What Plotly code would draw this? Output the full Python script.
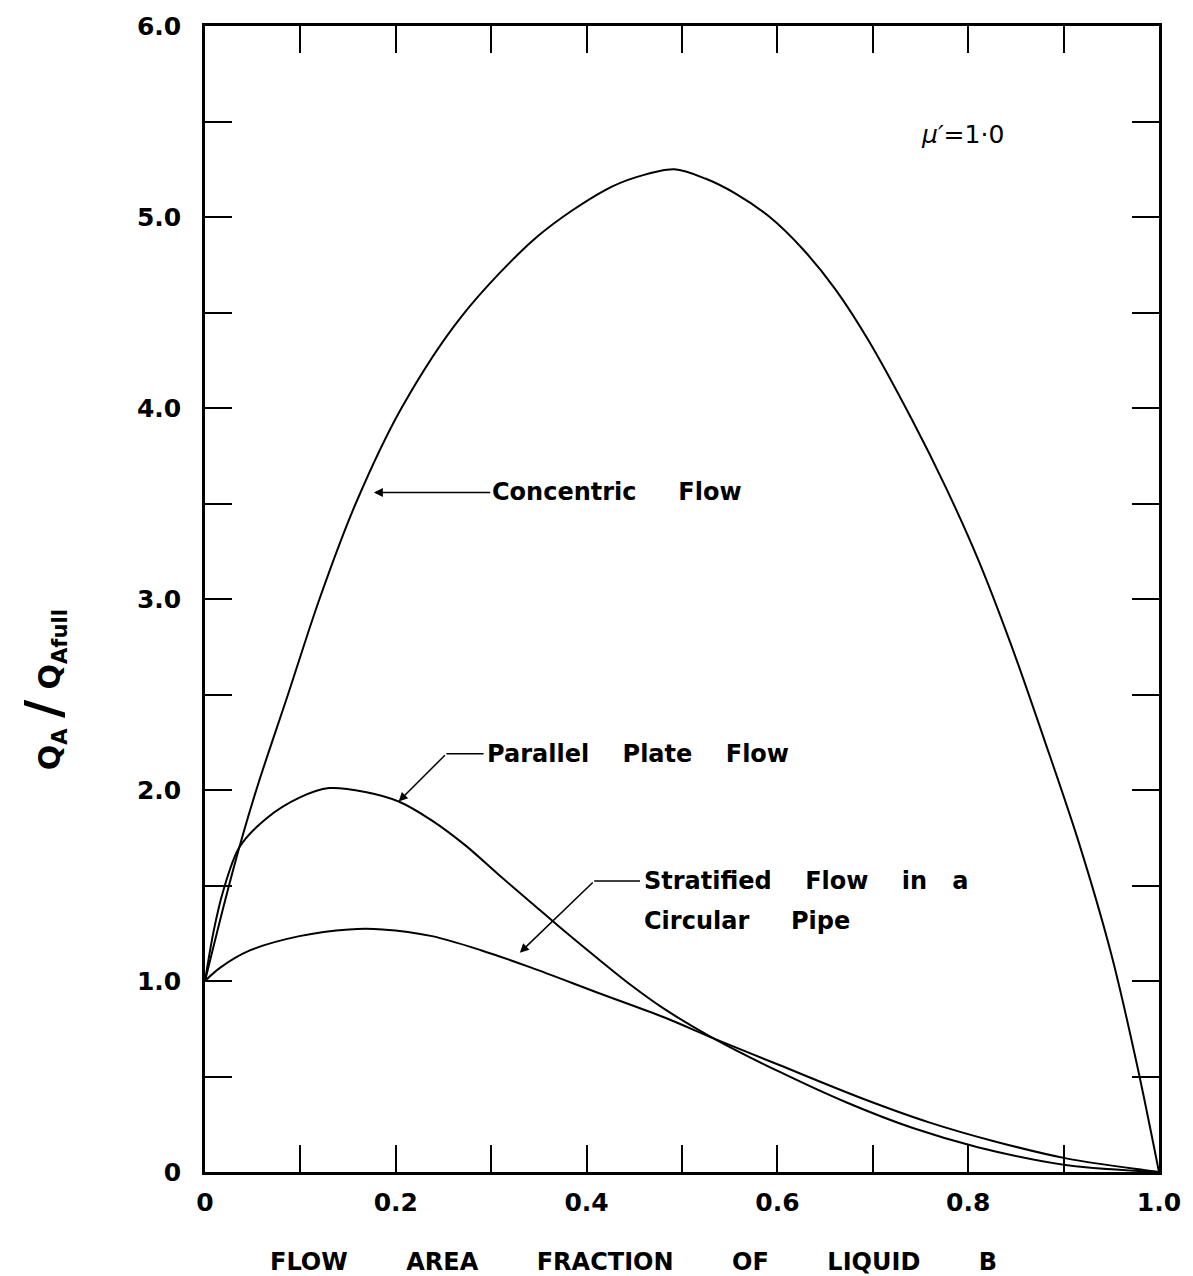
import plotly.graph_objects as go

# ---- data ----
conc_x = [0.0, 0.021, 0.036, 0.055, 0.087, 0.120, 0.158, 0.206, 0.269, 0.349, 0.419, 0.453,
          0.492, 0.525, 0.557, 0.592, 0.627, 0.661, 0.696, 0.741, 0.776, 0.811, 0.845,
          0.880, 0.915, 0.950, 0.977, 1.0]
conc_y = [1.0, 1.42, 1.70, 2.02, 2.50, 3.00, 3.50, 4.00, 4.48, 4.90, 5.14, 5.21,
          5.25, 5.20, 5.12, 5.00, 4.83, 4.62, 4.35, 3.94, 3.59, 3.20, 2.76,
          2.26, 1.74, 1.14, 0.56, 0.0]

par_x = [0.0, 0.009, 0.019, 0.036, 0.064, 0.099, 0.130, 0.168, 0.203, 0.238, 0.273,
         0.307, 0.342, 0.377, 0.411, 0.446, 0.481, 0.533, 0.602, 0.672, 0.742, 0.810,
         0.904, 1.0]
par_y = [1.0, 1.26, 1.47, 1.70, 1.85, 1.96, 2.01, 1.99, 1.94, 1.84, 1.71,
         1.56, 1.41, 1.26, 1.12, 0.98, 0.855, 0.70, 0.525, 0.365, 0.23, 0.13,
         0.035, 0.0]

strat_x = [0.0, 0.016, 0.047, 0.099, 0.151, 0.186, 0.238, 0.290, 0.342, 0.411, 0.481,
           0.533, 0.602, 0.689, 0.759, 0.828, 0.904, 0.984, 1.0]
strat_y = [1.0, 1.07, 1.16, 1.235, 1.27, 1.27, 1.235, 1.16, 1.07, 0.94, 0.81,
           0.70, 0.56, 0.385, 0.26, 0.16, 0.07, 0.01, 0.0]

x_tick_vals = [0.0, 0.1, 0.2, 0.3, 0.4, 0.5, 0.6, 0.7, 0.8, 0.9, 1.0]
x_tick_text = ["0", "", "0.2", "", "0.4", "", "0.6", "", "0.8", "", "1.0"]
y_tick_vals = [0.0, 0.5, 1.0, 1.5, 2.0, 2.5, 3.0, 3.5, 4.0, 4.5, 5.0, 5.5, 6.0]
y_tick_text = ["0", "", "1.0", "", "2.0", "", "3.0", "", "4.0", "", "5.0", "", "6.0"]

FONT = "DejaVu Sans"
NB = "\u00a0"

fig = go.Figure()
for xs, ys, name in [(conc_x, conc_y, "Concentric Flow"),
                     (par_x, par_y, "Parallel Plate Flow"),
                     (strat_x, strat_y, "Stratified Flow in a Circular Pipe")]:
    fig.add_trace(go.Scatter(x=xs, y=ys, mode="lines", name=name,
                             line=dict(color="black", width=2, shape="spline", smoothing=0.9),
                             hoverinfo="skip"))

axis_common = dict(ticks="inside", ticklen=27, tickwidth=2, tickcolor="black",
                   showline=True, linewidth=2.5, linecolor="black", mirror="ticks",
                   showgrid=False, zeroline=False,
                   tickfont=dict(family=FONT, size=25, color="black", weight="bold"))

fig.update_layout(
    width=1193, height=1276,
    margin=dict(l=205, r=26, t=22, b=104),
    paper_bgcolor="white", plot_bgcolor="white",
    showlegend=False,
    xaxis=dict(range=[0, 1], tickmode="array", tickvals=x_tick_vals, ticktext=x_tick_text,
               ticklabelstandoff=6, **axis_common),
    yaxis=dict(range=[0, 6], tickmode="array", tickvals=y_tick_vals, ticktext=y_tick_text,
               ticklabelstandoff=16, **axis_common),
)

lab_font = dict(family=FONT, size=24, color="black", weight="bold")

annotations = [
    # Concentric label with arrow
    dict(x=0.177, y=3.558, ax=0.299, ay=3.558, axref="x", ayref="y", xref="x", yref="y",
         text="Concentric" + NB * 5 + "Flow", xanchor="left", yanchor="middle",
         showarrow=True, arrowhead=2, arrowsize=1.2, arrowwidth=1.5, arrowcolor="black",
         font=lab_font),
    # Parallel plate label
    dict(x=0.294, y=2.19, xref="x", yref="y", text="Parallel" + NB * 4 + "Plate" + NB * 4 + "Flow",
         xanchor="left", yanchor="middle", showarrow=False, font=lab_font),
    dict(x=0.203, y=1.94, ax=0.253, ay=2.19, axref="x", ayref="y", xref="x", yref="y",
         text="", showarrow=True, arrowhead=2, arrowsize=1.2, arrowwidth=1.5, arrowcolor="black"),
    # Stratified label
    dict(x=0.458, y=1.523, xref="x", yref="y",
         text="Stratified" + NB * 4 + "Flow" + NB * 4 + "in" + NB * 3 + "a",
         xanchor="left", yanchor="middle", showarrow=False, font=lab_font),
    dict(x=0.458, y=1.315, xref="x", yref="y", text="Circular" + NB * 5 + "Pipe",
         xanchor="left", yanchor="middle", showarrow=False, font=lab_font),
    dict(x=0.330, y=1.148, ax=0.408, ay=1.523, axref="x", ayref="y", xref="x", yref="y",
         text="", showarrow=True, arrowhead=2, arrowsize=1.2, arrowwidth=1.5, arrowcolor="black"),
    # mu' = 1.0
    dict(x=0.794, y=5.43, xref="x", yref="y", text="<i>μ′</i>=1·0", showarrow=False,
         font=dict(family=FONT, size=25, color="black")),
    # x axis title
    dict(x=0.4496, y=-0.0783, xref="paper", yref="paper",
         text=("FLOW" + NB * 7 + "AREA" + NB * 7 + "FRACTION" + NB * 7 + "OF" + NB * 7 +
               "LIQUID" + NB * 7 + "B"),
         showarrow=False, xanchor="center", yanchor="middle",
         font=dict(family=FONT, size=24, color="black", weight="bold")),
    # y axis title
    dict(x=-0.170, y=0.421, xref="paper", yref="paper",
         text="Q<sub>A</sub> <span style='font-size:50px'>/</span> Q<sub>Afull</sub>",
         textangle=-90, showarrow=False, xanchor="center", yanchor="middle",
         font=dict(family=FONT, size=30, color="black", weight="bold")),
]
fig.update_layout(annotations=annotations)

fig.add_shape(type="line", x0=0.253, y0=2.19, x1=0.292, y1=2.19, xref="x", yref="y",
              line=dict(color="black", width=1.5))
fig.add_shape(type="line", x0=0.408, y0=1.523, x1=0.456, y1=1.523, xref="x", yref="y",
              line=dict(color="black", width=1.5))

fig.write_html("out.html")
